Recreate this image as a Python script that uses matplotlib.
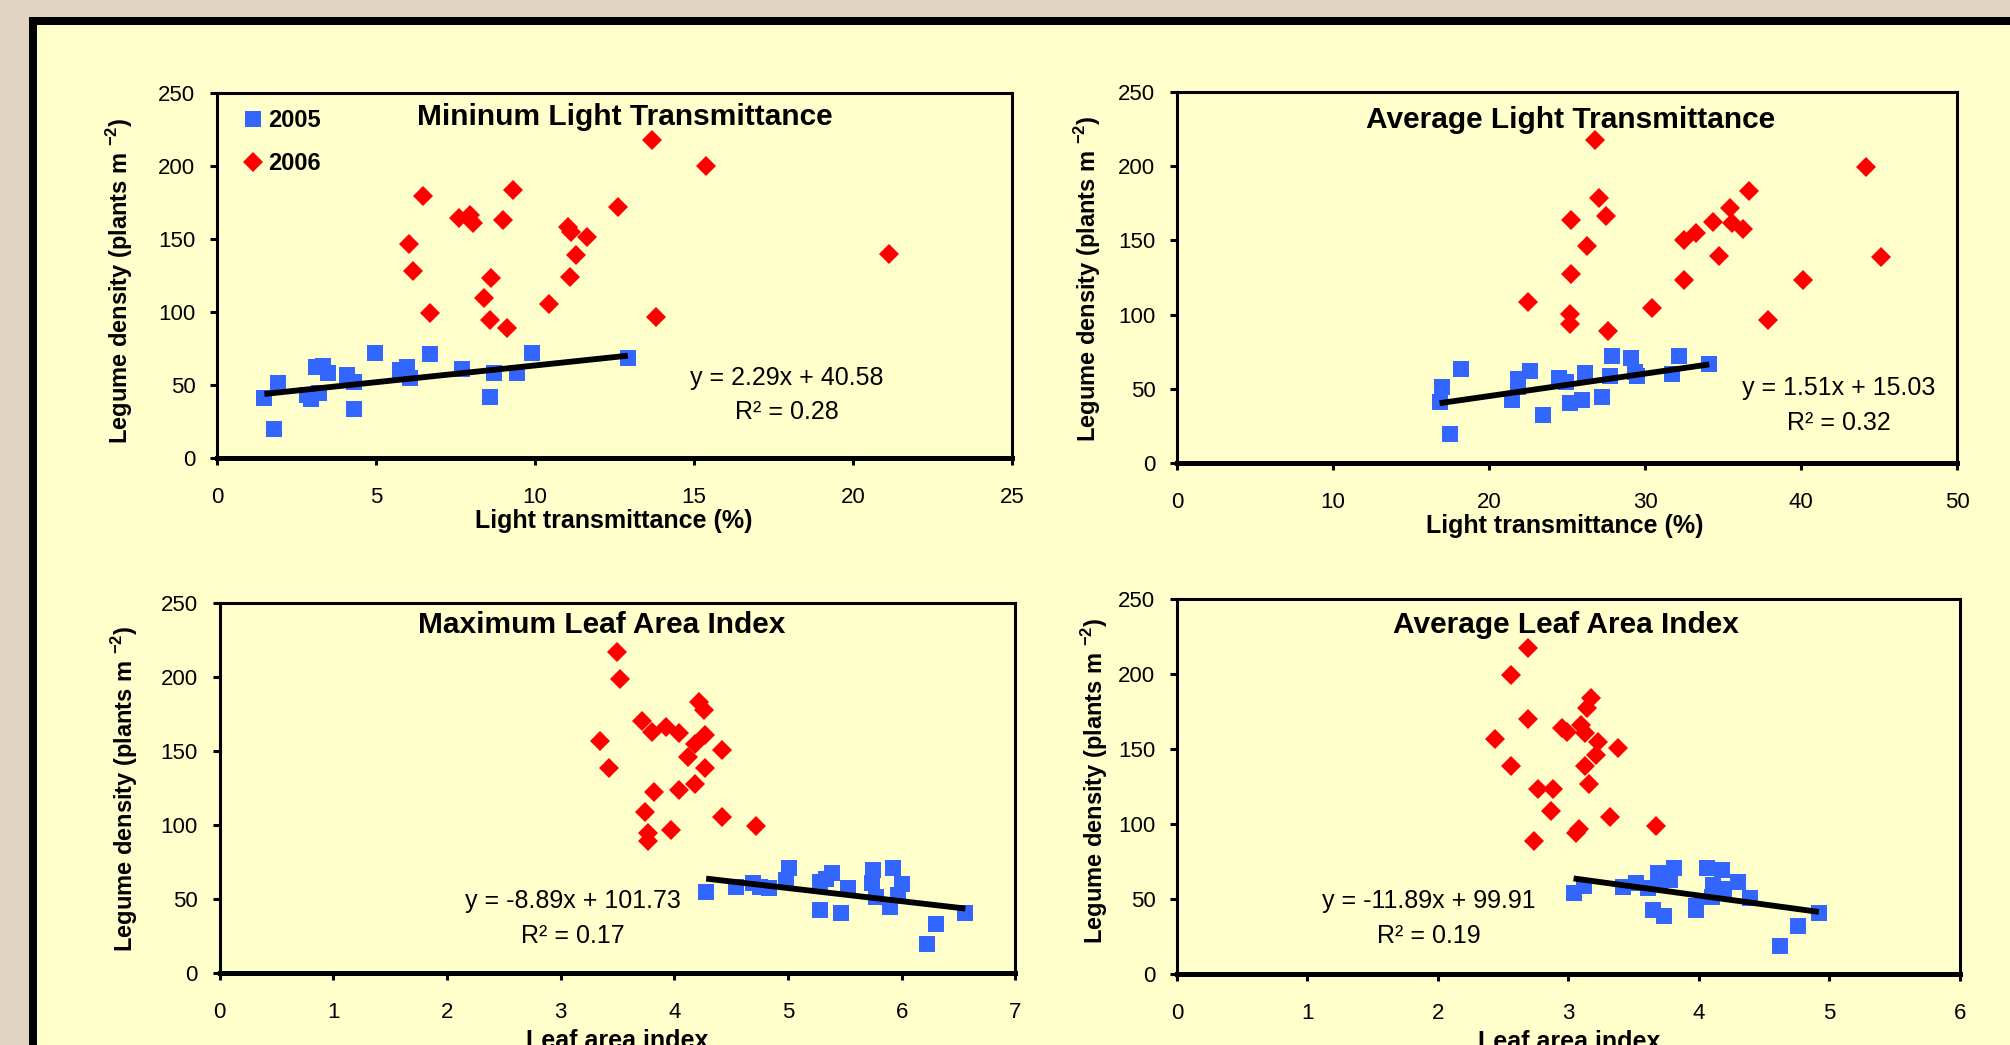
import matplotlib
matplotlib.use("Agg")
import matplotlib.pyplot as plt
from matplotlib.patches import Rectangle

plt.rcParams['font.family'] = ['Liberation Sans', 'DejaVu Sans']
plt.rcParams['mathtext.fontset'] = 'custom'
plt.rcParams['mathtext.rm'] = 'Liberation Sans'
plt.rcParams['mathtext.bf'] = 'Liberation Sans:bold'

# --- data ---------------------------------------------------------------
# minimum light transmittance (%)
lt_min_05_x = [1.49, 1.80, 1.91, 2.83, 2.97, 3.22, 3.11, 3.33, 3.49, 4.09, 4.30, 4.32,
               4.98, 5.77, 5.96, 6.06, 6.71, 7.69, 8.58, 8.70, 9.42, 9.91, 12.92]
lt_min_05_y = [41.0, 19.8, 51.3, 43.3, 40.3, 44.4, 62.6, 63.3, 58.1, 56.9, 52.4, 33.5,
               72.2, 60.4, 62.2, 54.7, 71.1, 61.0, 42.1, 58.1, 58.1, 72.2, 68.3]
lt_min_06_x = [6.05, 6.17, 6.48, 6.71, 7.60, 7.97, 8.05, 8.39, 8.58, 8.63, 9.00, 9.12,
               9.30, 10.44, 11.04, 11.12, 11.10, 11.30, 11.64, 12.61, 13.69, 13.81, 15.37, 21.14]
lt_min_06_y = [146.5, 128.0, 179.3, 99.5, 164.5, 166.7, 161.0, 109.3, 94.5, 123.0, 162.9, 89.3,
               183.8, 105.5, 157.9, 154.9, 124.1, 139.0, 151.5, 171.5, 217.5, 96.8, 200.0, 139.4]

# average light transmittance (%)
lt_avg_05_x = [16.83, 16.98, 17.48, 18.22, 21.50, 21.86, 21.86, 22.61, 23.47, 24.47, 24.96, 25.18,
               25.93, 26.18, 27.25, 27.74, 27.89, 29.09, 29.35, 29.50, 31.76, 32.17, 34.12]
lt_avg_05_y = [41.5, 51.1, 19.5, 63.2, 42.6, 56.7, 51.6, 62.1, 32.5, 57.2, 54.9, 40.4,
               42.6, 61.0, 44.8, 58.7, 72.2, 70.6, 61.2, 58.7, 60.1, 72.2, 66.8]
lt_avg_06_x = [26.78, 27.04, 25.28, 27.53, 26.30, 25.28, 22.50, 25.18, 25.18, 27.64, 30.42, 32.51,
               32.51, 33.24, 34.37, 34.74, 35.48, 35.59, 36.30, 36.68, 37.90, 40.11, 44.17, 45.13]
lt_avg_06_y = [217.5, 178.3, 163.7, 166.4, 146.4, 127.1, 108.7, 100.2, 93.5, 89.0, 104.7, 123.3,
               150.2, 155.2, 162.6, 139.5, 171.5, 161.4, 157.4, 183.2, 96.4, 123.3, 199.1, 139.0]

# maximum leaf area index
lai_max_05_x = [4.28, 4.54, 4.69, 4.75, 4.83, 4.98, 5.01, 5.28, 5.33, 5.39, 5.28, 5.47,
                5.53, 5.75, 5.74, 5.77, 5.92, 5.90, 6.00, 5.97, 6.30, 6.22, 6.56]
lai_max_05_y = [54.8, 58.2, 60.5, 58.2, 57.1, 62.7, 71.1, 61.6, 63.6, 67.2, 42.4, 40.2,
                57.1, 69.5, 60.9, 51.0, 71.1, 44.7, 60.0, 52.6, 32.7, 19.2, 40.2]
lai_max_06_x = [3.50, 3.52, 4.22, 4.26, 3.72, 3.80, 3.93, 4.04, 3.35, 4.27, 4.18, 4.42,
                4.12, 3.43, 4.27, 3.82, 4.04, 4.18, 3.74, 4.42, 4.72, 3.97, 3.77, 3.77]
lai_max_06_y = [217.3, 198.8, 183.4, 177.8, 170.6, 163.1, 166.1, 162.0, 157.0, 160.9, 154.8, 150.7,
                146.2, 138.8, 138.8, 122.5, 123.6, 127.7, 109.0, 105.1, 99.3, 96.6, 94.3, 89.4]

# average leaf area index
lai_avg_05_x = [3.04, 3.12, 3.42, 3.52, 3.61, 3.69, 3.70, 3.78, 3.81, 3.65, 3.73, 3.98,
                3.98, 4.06, 4.18, 4.11, 4.10, 4.19, 4.30, 4.39, 4.76, 4.62, 4.92]
lai_avg_05_y = [53.8, 58.9, 58.3, 60.5, 57.6, 67.2, 61.6, 62.7, 70.5, 42.7, 38.9, 42.7,
                45.4, 70.5, 69.4, 59.4, 51.6, 56.7, 61.2, 50.5, 32.0, 18.7, 40.5]
lai_avg_06_x = [2.69, 2.56, 3.17, 3.14, 2.69, 2.95, 2.99, 3.10, 3.13, 2.44, 3.23, 3.38,
                3.21, 2.56, 3.13, 2.77, 2.88, 3.16, 2.87, 3.32, 3.67, 3.08, 3.06, 2.74]
lai_avg_06_y = [217.3, 199.5, 184.4, 177.7, 170.2, 164.4, 161.3, 166.1, 160.6, 156.8, 155.0, 151.0,
                146.1, 138.8, 138.8, 123.2, 123.2, 126.6, 108.8, 105.0, 98.8, 96.5, 93.9, 88.7]

# 2005 trend lines as printed on the chart
slopes = [2.29, 1.51, -8.89, -11.89]
intercepts = [40.58, 15.03, 101.73, 99.91]
r_squared = [0.28, 0.32, 0.17, 0.19]

titles = ['Mininum Light Transmittance', 'Average Light Transmittance',
          'Maximum Leaf Area Index', 'Average Leaf Area Index']
xlabels = ['Light transmittance (%)', 'Light transmittance (%)',
           'Leaf area index', 'Leaf area index']
xmaxes = [25, 50, 7, 6]
xsteps = [5, 10, 1, 1]

# --- layout (pixel positions in the 2010x1045 picture) -------------------
W, H = 2010, 1045
YELLOW = '#FFFFCC'
BLUE = '#3366FF'
RED = '#FF0000'


def fx(px):
    return px / W


def fy(py):
    return 1 - py / H


fig = plt.figure(figsize=(W / 100, H / 100), dpi=100, facecolor='#E2D4C3')
frame = Rectangle((fx(33), -0.1), 1.2, fy(21) + 0.1, transform=fig.transFigure,
                  facecolor=YELLOW, edgecolor='black', linewidth=8 * 0.72, zorder=-1)
fig.add_artist(frame)

# left, top, right, bottom of each plot area
boxes = [(217, 92.7, 1012, 458.3), (1177, 91.7, 1957, 463.3),
         (219.5, 603.3, 1015.4, 972.7), (1177, 599.3, 1959.8, 974)]
title_pos = [(625, 125), (1571, 128), (602, 633), (1566, 633)]
xlabel_pos = [(614, 528), (1565, 533), (617, 1048), (1569, 1049)]
ylabel_pos = [(120, 281), (1088, 279), (125, 789), (1095, 781)]
eq_pos = [(787, 385, 419), (1839, 395, 430), (573, 908, 943), (1429, 908, 943)]

data = [(lt_min_05_x, lt_min_05_y, lt_min_06_x, lt_min_06_y),
        (lt_avg_05_x, lt_avg_05_y, lt_avg_06_x, lt_avg_06_y),
        (lai_max_05_x, lai_max_05_y, lai_max_06_x, lai_max_06_y),
        (lai_avg_05_x, lai_avg_05_y, lai_avg_06_x, lai_avg_06_y)]

for i in range(4):
    left, top, right, bottom = boxes[i]
    ax = fig.add_axes([fx(left), fy(bottom), (right - left) / W, (bottom - top) / H])
    ax.set_facecolor(YELLOW)
    x05, y05, x06, y06 = data[i]

    ax.plot(x05, y05, 's', color=BLUE, ms=11.2, mew=0, label='2005', zorder=2)
    ax.plot(x06, y06, 'D', color=RED, ms=9.8, mew=0, label='2006', zorder=2)

    xs = [min(x05), max(x05)]
    ax.plot(xs, [slopes[i] * v + intercepts[i] for v in xs], color='black',
            lw=4.2, solid_capstyle='butt', zorder=3)

    ax.set_xlim(0, xmaxes[i])
    ax.set_ylim(0, 250)
    ax.set_xticks(range(0, xmaxes[i] + 1, xsteps[i]))
    ax.set_yticks(range(0, 251, 50))
    ax.tick_params(direction='out', length=5, width=2.2, labelsize=16, colors='black')
    ax.tick_params(axis='x', pad=16)
    ax.tick_params(axis='y', pad=10.5)
    for s in ['left', 'top', 'right']:
        ax.spines[s].set_linewidth(2.2)
    ax.spines['bottom'].set_linewidth(3.6)

    if i == 0:
        ax.legend(loc='upper left', bbox_to_anchor=(0.0364, 0.955), frameon=False,
                  borderaxespad=0, borderpad=0, handlelength=0.6, handletextpad=0.32,
                  labelspacing=0.85, prop={'weight': 'bold', 'size': 17})

    tx, ty = title_pos[i]
    fig.text(fx(tx), fy(ty), titles[i], ha='center', va='baseline',
             fontsize=21.5, fontweight='bold')
    lx, ly = xlabel_pos[i]
    fig.text(fx(lx), fy(ly), xlabels[i], ha='center', va='baseline',
             fontsize=18, fontweight='bold')
    yx, yy = ylabel_pos[i]
    fig.text(fx(yx), fy(yy), r'Legume density (plants m $^{\mathbf{-2}}$)', rotation=90,
             ha='center', va='center', fontsize=17, fontweight='bold')
    ex, e1, e2 = eq_pos[i]
    fig.text(fx(ex), fy(e1), f'y = {slopes[i]:.2f}x + {intercepts[i]:.2f}',
             ha='center', va='baseline', fontsize=18)
    fig.text(fx(ex), fy(e2), f'R\u00b2 = {r_squared[i]:.2f}',
             ha='center', va='baseline', fontsize=18)

fig.savefig('out.png', dpi=100, facecolor=fig.get_facecolor())
